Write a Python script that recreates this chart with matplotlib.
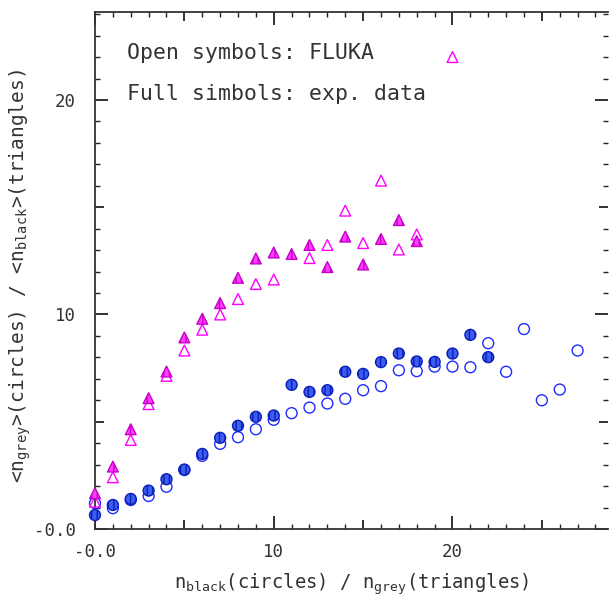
import numpy as np
import matplotlib
matplotlib.use("Agg")
import matplotlib.pyplot as plt
from matplotlib.ticker import MultipleLocator, FuncFormatter

plt.rcParams['font.family'] = ['DejaVu Sans Mono', 'DejaVu Sans']
plt.rcParams['mathtext.default'] = 'regular'
plt.rcParams['hatch.linewidth'] = 1.0

# <n_grey> vs n_black (circles)
x_circ_exp = np.arange(0, 23)
y_circ_exp = [0.65, 1.12, 1.40, 1.79, 2.32, 2.77, 3.50, 4.25, 4.81, 5.23, 5.29, 6.72,
              6.39, 6.47, 7.33, 7.23, 7.78, 8.18, 7.81, 7.79, 8.18, 9.05, 8.01]
x_circ_fluka = np.arange(0, 28)
y_circ_fluka = [1.20, 0.97, 1.35, 1.54, 1.97, 2.75, 3.41, 3.97, 4.28, 4.65, 5.09, 5.40,
                5.66, 5.85, 6.07, 6.47, 6.66, 7.40, 7.36, 7.57, 7.57, 7.54, 8.66, 7.33,
                9.32, 6.00, 6.50, 8.32]

# <n_black> vs n_grey (triangles)
x_tri_exp = np.arange(0, 19)
y_tri_exp = [1.67, 2.91, 4.65, 6.10, 7.34, 8.93, 9.80, 10.53, 11.71, 12.61, 12.89, 12.82,
             13.24, 12.21, 13.63, 12.33, 13.52, 14.40, 13.42]
x_tri_fluka = [0, 1, 2, 3, 4, 5, 6, 7, 8, 9, 10, 12, 13, 14, 15, 16, 17, 18, 20]
y_tri_fluka = [1.27, 2.41, 4.15, 5.82, 7.14, 8.32, 9.29, 10.0, 10.72, 11.42, 11.63, 12.63,
               13.24, 14.84, 13.33, 16.24, 13.03, 13.73, 22.0]

fig = plt.figure(figsize=(6.1, 6.03), dpi=100)
ax = fig.add_axes([95/610, 1-529/603, 513/610, 517/603])

ax.scatter(x_circ_fluka, y_circ_fluka, s=62, marker='o', facecolors='none',
           edgecolors='#1f2bff', linewidths=1.0, zorder=3, clip_on=False)
ax.scatter(x_circ_exp, y_circ_exp, s=62, marker='o', facecolors='#3d5cf0',
           edgecolors='#0a1fb8', hatch='|||', linewidths=1.0, zorder=4, clip_on=False)
ax.scatter(x_tri_fluka, y_tri_fluka, s=60, marker='^', facecolors='none',
           edgecolors='#ff00ff', linewidths=1.0, zorder=3, clip_on=False)
ax.scatter(x_tri_exp, y_tri_exp, s=60, marker='^', facecolors='#ff3cff',
           edgecolors='#c800c8', hatch='|||', linewidths=1.0, zorder=4, clip_on=False)

ax.set_xlim(0, 28.7)
ax.set_ylim(0, 24.1)

def fmt(v, pos):
    if abs(v) < 1e-9:
        return '-0.0'
    if abs(v % 10) < 1e-9:
        return '%d' % v
    return ''

for axis in (ax.xaxis, ax.yaxis):
    axis.set_major_locator(MultipleLocator(5))
    axis.set_minor_locator(MultipleLocator(1))
    axis.set_major_formatter(FuncFormatter(fmt))

ax.tick_params(which='both', direction='in', top=True, right=True, color='#222222')
ax.tick_params(which='major', width=1.3, labelsize=12.5, labelcolor='#333333')
ax.tick_params(which='minor', length=3.6, width=1.0)
ax.tick_params(axis='x', which='major', pad=10)
ax.tick_params(axis='y', which='major', pad=14)

# long ticks at multiples of 10, medium at 5s
for axis in (ax.xaxis, ax.yaxis):
    locs = axis.get_majorticklocs()
    for loc, t in zip(locs, axis.get_major_ticks(len(locs))):
        L = 9.4 if abs(loc % 10) < 1e-9 else 6.5
        t.tick1line.set_markersize(L)
        t.tick2line.set_markersize(L)

for s in ['left', 'bottom', 'top']:
    ax.spines[s].set_linewidth(1.3)
    ax.spines[s].set_color('#333333')
ax.spines['right'].set_visible(False)

ax.set_xlabel(r'$n_{black}$(circles) / $n_{grey}$(triangles)', fontsize=13.6, color='#333333')
ax.set_ylabel(r'<$n_{grey}$>(circles) / <$n_{black}$>(triangles)', fontsize=14, color='#333333')
ax.xaxis.set_label_coords(0.5, -0.083)
ax.yaxis.set_label_coords(-0.12, 0.49)

ax.text(1.79, 22.2, 'Open symbols: FLUKA', fontsize=15.5, va='center', color='#333333')
ax.text(1.79, 20.3, 'Full simbols: exp. data', fontsize=15.5, va='center', color='#333333')

fig.savefig('out.png', dpi=100)
